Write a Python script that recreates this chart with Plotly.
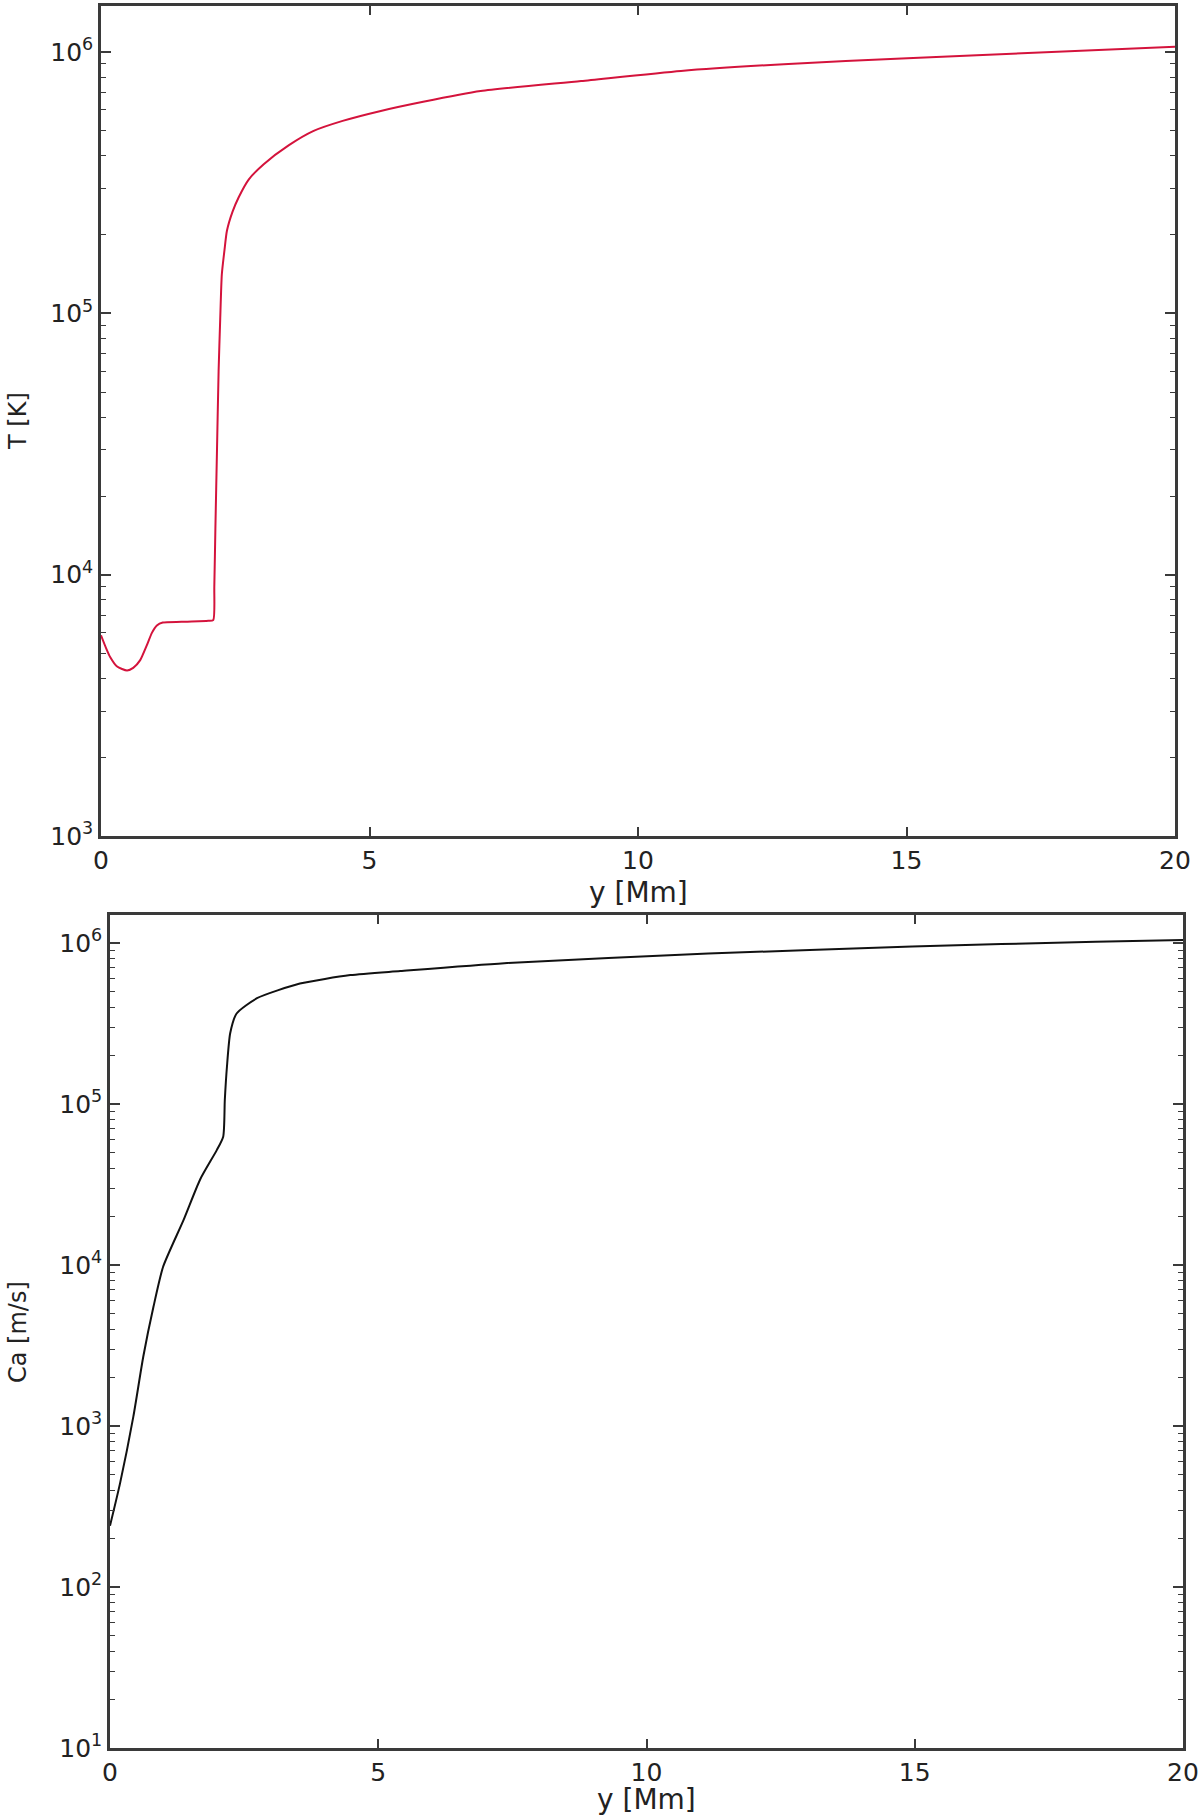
import plotly.graph_objects as go

# ---- data ----
y_T = [0.0, 0.1, 0.17, 0.3, 0.485, 0.6, 0.73, 0.85, 0.95, 1.04, 1.15, 1.5, 2.0, 2.09,
       2.11, 2.13, 2.16, 2.19, 2.22, 2.25, 2.3, 2.345, 2.45, 2.56, 2.75, 3.03, 3.5,
       3.96, 4.5, 5.21, 6.0, 7.07, 8.94, 10.8, 12.8, 14.91, 17.7, 20.0]
T_K = [5860, 5200, 4840, 4450, 4300, 4400, 4710, 5350, 6000, 6390, 6560, 6600, 6660, 6700,
       9000, 1.5e4, 3.0e4, 6.0e4, 9.5e4, 1.41e5, 1.75e5, 2.07e5, 2.45e5, 2.77e5, 3.25e5, 3.72e5, 4.4e5,
       4.99e5, 5.45e5, 5.95e5, 6.45e5, 7.09e5, 7.74e5, 8.46e5, 9.0e5, 9.45e5, 1.0e6, 1.048e6]

y_Ca = [0.0, 0.187, 0.435, 0.62, 0.81, 0.99, 1.37, 1.68, 1.99, 2.11, 2.14, 2.18, 2.24, 2.36,
        2.74, 3.54, 4.48, 5.41, 7.35, 11.15, 14.95, 18.37, 20.0]
Ca_ms = [240, 440, 1143, 2693, 5500, 9750, 1.9e4, 3.4e4, 5.17e4, 6.27e4, 1.06e5, 1.71e5, 2.75e5, 3.65e5,
         4.54e5, 5.6e5, 6.32e5, 6.7e5, 7.5e5, 8.6e5, 9.5e5, 1.02e6, 1.045e6]

x_ticks = [0, 5, 10, 15, 20]
T_decades = [3, 4, 5, 6]
Ca_decades = [1, 2, 3, 4, 5, 6]

W, H = 1200, 1818
FONT = "DejaVu Sans"
AX = "#3a3a3a"

def px_x(p):
    return min(1.0, max(0.0, p / W))

def px_y(p):
    return min(1.0, max(0.0, 1 - p / H))

def minor_vals(decs):
    out = []
    for d in decs:
        for k in range(2, 10):
            out.append(k * 10 ** d)
    return out

fig = go.Figure()
fig.add_trace(go.Scatter(x=y_T, y=T_K, mode="lines",
                         line=dict(color="#d4133c", width=2, shape="spline", smoothing=0.6),
                         xaxis="x", yaxis="y", showlegend=False))
fig.add_trace(go.Scatter(x=y_Ca, y=Ca_ms, mode="lines",
                         line=dict(color="#111111", width=2, shape="spline", smoothing=0.6),
                         xaxis="x2", yaxis="y2", showlegend=False))

def xax(domain, anchor):
    return dict(domain=domain, anchor=anchor, range=[0, 20], tickmode="array",
                tickvals=x_ticks, ticktext=[str(v) for v in x_ticks],
                ticks="inside", ticklen=9, tickwidth=1.5, tickcolor=AX,
                showline=True, linecolor=AX, linewidth=2.5, mirror="ticks",
                showgrid=False, zeroline=False, automargin=False,
                ticklabeloverflow="allow",
                tickfont=dict(family=FONT, size=25, color="#222"))

def yax(domain, anchor, decs, rng):
    return dict(domain=domain, anchor=anchor, type="log", range=rng, tickmode="array",
                tickvals=[10 ** d for d in decs],
                ticktext=["10<sup>%d</sup>" % d for d in decs],
                ticks="inside", ticklen=10, tickwidth=1.5, tickcolor=AX,
                minor=dict(tickmode="array", tickvals=minor_vals(decs), ticks="inside",
                           ticklen=5, tickwidth=1.2, tickcolor=AX, showgrid=False),
                showline=True, linecolor=AX, linewidth=2.5, mirror="ticks",
                showgrid=False, zeroline=False, automargin=False,
                ticklabeloverflow="allow",
                tickfont=dict(family=FONT, size=25, color="#222"))

fig.update_layout(
    width=W, height=H, margin=dict(l=0, r=0, t=0, b=0),
    paper_bgcolor="white", plot_bgcolor="white",
    xaxis=xax([px_x(101), px_x(1175)], "y"),
    yaxis=yax([px_y(836), px_y(6)], "x", T_decades, [3, 6.176]),
    xaxis2=xax([px_x(110), px_x(1183)], "y2"),
    yaxis2=yax([px_y(1748), px_y(915)], "x2", Ca_decades, [1, 6.174]),
)

fig.add_annotation(text="T [K]", x=px_x(18), y=px_y(421), xref="paper", yref="paper",
                   textangle=-90, showarrow=False, font=dict(family=FONT, size=24, color="#222"),
                   xanchor="center", yanchor="middle")
fig.add_annotation(text="y [Mm]", x=px_x(638), y=px_y(892), xref="paper", yref="paper",
                   showarrow=False, font=dict(family=FONT, size=28, color="#222"),
                   xanchor="center", yanchor="middle")
fig.add_annotation(text="Ca [m/s]", x=px_x(18), y=px_y(1332), xref="paper", yref="paper",
                   textangle=-90, showarrow=False, font=dict(family=FONT, size=24, color="#222"),
                   xanchor="center", yanchor="middle")
fig.add_annotation(text="y [Mm]", x=px_x(646), y=px_y(1799), xref="paper", yref="paper",
                   showarrow=False, font=dict(family=FONT, size=28, color="#222"),
                   xanchor="center", yanchor="middle")

# remove the default 8px page margin so the figure fills the 1200x1818 window exactly
fig.write_html("out.html", config={"displayModeBar": False},
               post_script="document.body.style.margin='0px';")
